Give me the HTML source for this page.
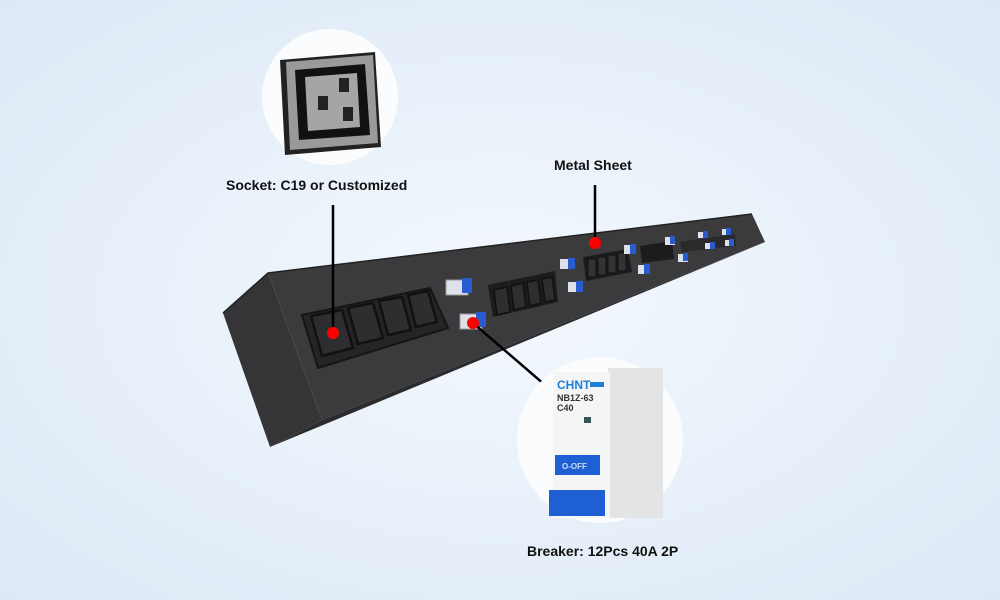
<!DOCTYPE html>
<html><head><style>
html,body{margin:0;padding:0;background:#e8f1fb;}
svg{display:block}
text{font-family:"Liberation Sans",sans-serif;font-weight:bold;}
</style></head><body>
<svg width="1000" height="600" viewBox="0 0 1000 600">
<defs>
<radialGradient id="bg" cx="50%" cy="50%" r="70%"><stop offset="0" stop-color="#f3f8fd"/><stop offset="1" stop-color="#dde9f6"/></radialGradient>
</defs>
<rect width="1000" height="600" fill="url(#bg)"/>
<!-- bar -->
<polygon points="223,313 268,273 322,420 270,447" fill="#353537"/>
<polygon points="268,273 752,214 765,242 322,420" fill="#3b3b3d"/>
<polygon points="322,420 765,242 270,447" fill="#2c2c2e"/>
<polyline points="223,313 268,273 752,214" fill="none" stroke="#222" stroke-width="1.5"/>
<!-- socket group 1 -->
<polygon points="302,315 430,288 448,328 318,368" fill="#252527" stroke="#151515" stroke-width="2"/>
<g fill="#2e2e30" stroke="#111" stroke-width="2.5">
<polygon points="311,316 342,310 353,348 322,356"/>
<polygon points="348,308 373,303 383,338 358,344"/>
<polygon points="379,301 402,297 411,330 388,335"/>
<polygon points="408,295 428,291 437,322 416,327"/>
</g>
<!-- breakers -->
<rect x="446" y="280" width="22" height="15" fill="#dde2ea" stroke="#999"/><rect x="462" y="278" width="10" height="15" fill="#2a5bd0"/>
<rect x="460" y="314" width="22" height="15" fill="#dde2ea" stroke="#999"/><rect x="476" y="312" width="10" height="15" fill="#2a5bd0"/>
<!-- socket group 2 -->
<polygon points="488,285 555,271 558,302 493,317" fill="#1c1c1e"/>
<g fill="#2e2e30" stroke="#111" stroke-width="1.5">
<polygon points="494,290 507,287 510,312 497,315"/><polygon points="511,286 523,283 526,307 514,310"/><polygon points="527,282 538,280 541,303 530,306"/><polygon points="542,279 552,277 555,300 545,302"/>
</g>
<rect x="560" y="259" width="14" height="10" fill="#dde2ea"/><rect x="568" y="258" width="7" height="11" fill="#2a5bd0"/>
<rect x="568" y="282" width="14" height="10" fill="#dde2ea"/><rect x="576" y="281" width="7" height="11" fill="#2a5bd0"/>
<polygon points="583,257 628,249 632,272 586,281" fill="#1c1c1e"/>
<g stroke="#111" fill="#333"><rect x="588" y="259" width="8" height="18"/><rect x="598" y="257" width="8" height="18"/><rect x="608" y="255" width="8" height="18"/><rect x="618" y="253" width="8" height="18"/></g>
<rect x="624" y="245" width="12" height="9" fill="#dde2ea"/><rect x="630" y="244" width="6" height="10" fill="#2a5bd0"/>
<rect x="638" y="265" width="12" height="9" fill="#dde2ea"/><rect x="644" y="264" width="6" height="10" fill="#2a5bd0"/>
<polygon points="640,246 672,241 674,259 642,263" fill="#1c1c1e"/>
<rect x="665" y="237" width="10" height="8" fill="#dde2ea"/><rect x="670" y="236" width="5" height="8" fill="#2a5bd0"/>
<rect x="678" y="254" width="10" height="8" fill="#dde2ea"/><rect x="683" y="253" width="5" height="8" fill="#2a5bd0"/>
<polygon points="680,242 735,234 736,246 682,252" fill="#2a2a2c"/>
<rect x="698" y="232" width="8" height="6" fill="#dde2ea"/><rect x="703" y="231" width="5" height="7" fill="#2a5bd0"/>
<rect x="705" y="243" width="8" height="6" fill="#dde2ea"/><rect x="710" y="242" width="5" height="7" fill="#2a5bd0"/>
<rect x="722" y="229" width="8" height="6" fill="#dde2ea"/><rect x="726" y="228" width="5" height="7" fill="#2a5bd0"/>
<rect x="725" y="240" width="8" height="6" fill="#dde2ea"/><rect x="729" y="239" width="5" height="7" fill="#2a5bd0"/>
<!-- socket circle -->
<circle cx="330" cy="97" r="68" fill="#fafcfe"/>
<polygon points="280,60 375,52 381,147 285,155" fill="#222"/>
<polygon points="286,62 373,55 378,143 290,150" fill="#9a9a9a"/>
<polygon points="295,70 365,64 370,135 299,140" fill="#111"/>
<polygon points="305,77 357,73 360,127 308,131" fill="#a5a5a5"/>
<rect x="318" y="96" width="10" height="14" fill="#222"/><rect x="339" y="78" width="10" height="14" fill="#222"/><rect x="343" y="107" width="10" height="14" fill="#222"/>
<text x="226" y="190" font-size="14" fill="#111">Socket: C19 or Customized</text>
<line x1="333" y1="205" x2="333" y2="333" stroke="#000" stroke-width="2.5"/>
<circle cx="333" cy="333" r="6" fill="#f00"/>
<!-- metal sheet -->
<text x="554" y="170" font-size="14" fill="#111">Metal Sheet</text>
<line x1="595" y1="185" x2="595" y2="243" stroke="#000" stroke-width="2.5"/>
<circle cx="595" cy="243" r="6" fill="#f00"/>
<!-- breaker line -->
<line x1="473" y1="323" x2="545" y2="385" stroke="#000" stroke-width="2.5"/>
<circle cx="473" cy="323" r="6" fill="#f00"/>
<!-- breaker circle -->
<circle cx="600" cy="440" r="83" fill="#fafcfe"/>
<rect x="608" y="368" width="55" height="150" fill="#e2e4e6"/>
<rect x="553" y="372" width="57" height="146" fill="#f4f5f6"/>
<text x="557" y="389" font-size="12" fill="#1e7fd6">CHNT</text>
<rect x="590" y="382" width="14" height="5" fill="#1e7fd6"/>
<text x="557" y="401" font-size="9" fill="#333" font-weight="normal">NB1Z-63</text>
<text x="557" y="411" font-size="9" fill="#333" font-weight="normal">C40</text>
<rect x="584" y="417" width="7" height="6" fill="#355"/>
<rect x="555" y="455" width="45" height="20" fill="#1f5fd4"/>
<text x="562" y="469" font-size="8" fill="#cde" font-weight="normal">O-OFF</text>
<polygon points="549,490 605,490 605,516 549,516" fill="#1f5fd4"/>
<text x="527" y="556" font-size="14" fill="#111">Breaker: 12Pcs 40A 2P</text>
</svg>
</body></html>
